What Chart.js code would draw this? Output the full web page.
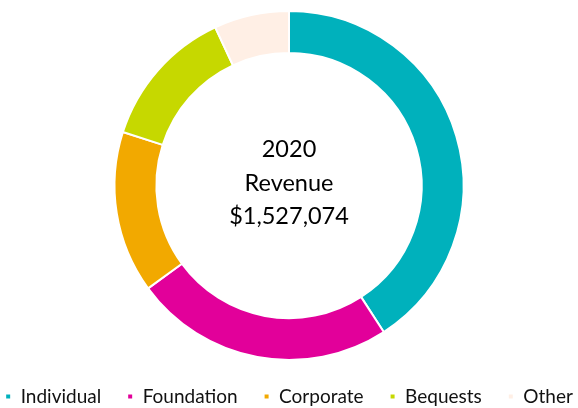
<!DOCTYPE html>
<html>
<head>
<meta charset="utf-8">
<script src="https://cdn.jsdelivr.net/npm/chart.js@4.4.0/dist/chart.umd.min.js"></script>
<style>
  html, body { margin: 0; padding: 0; background: #fff; }
  #wrap { width: 578px; height: 408px; }
</style>
</head>
<body>
<div id="wrap"><canvas id="revChart"></canvas></div>
<script>
// revenue by source, 2020
const sources = ['Individual', 'Foundation', 'Corporate', 'Bequests', 'Other'];
const amounts = [624000, 368000, 229000, 200000, 106074];
const colours = ['#00B1BC', '#E2009A', '#F2A900', '#C6D800', '#FFEFE5'];
const centerLines = ['2020', 'Revenue', '$1,527,074'];

const centerText = {
  id: 'centerText',
  afterDraw(chart) {
    const arc = chart.getDatasetMeta(0).data[0];
    if (!arc) return;
    const c = chart.ctx;
    c.save();
    c.fillStyle = '#000';
    c.font = '23.5px Lato';
    c.textAlign = 'center';
    c.textBaseline = 'middle';
    const gap = 33.5;
    centerLines.forEach((t, i) => {
      c.fillText(t, arc.x, arc.y + (i - 1) * gap - 2.5);
    });
    c.restore();
  }
};

const ctx = document.getElementById('revChart');

const chrt = new Chart(ctx, {
  type: 'doughnut',
  data: {
    labels: sources,
    datasets: [{
      data: amounts,
      backgroundColor: colours,
      borderColor: '#fff',
      borderWidth: 2
    }]
  },
  options: {
    responsive: true,
    maintainAspectRatio: false,
    animation: false,
    cutout: '76%',
    // negative sides so the wide legend row doesn't wrap
    layout: {
      padding: { top: 10, bottom: -8, left: -30, right: -30 }
    },
    plugins: {
      tooltip: { enabled: false },
      legend: {
        position: 'bottom',
        labels: {
          color: '#111',
          font: { family: 'Lato', size: 19 },
          boxWidth: 6,
          boxHeight: 6,
          padding: 26
        }
      }
    }
  },
  plugins: [centerText]
});
</script>
</body>
</html>
